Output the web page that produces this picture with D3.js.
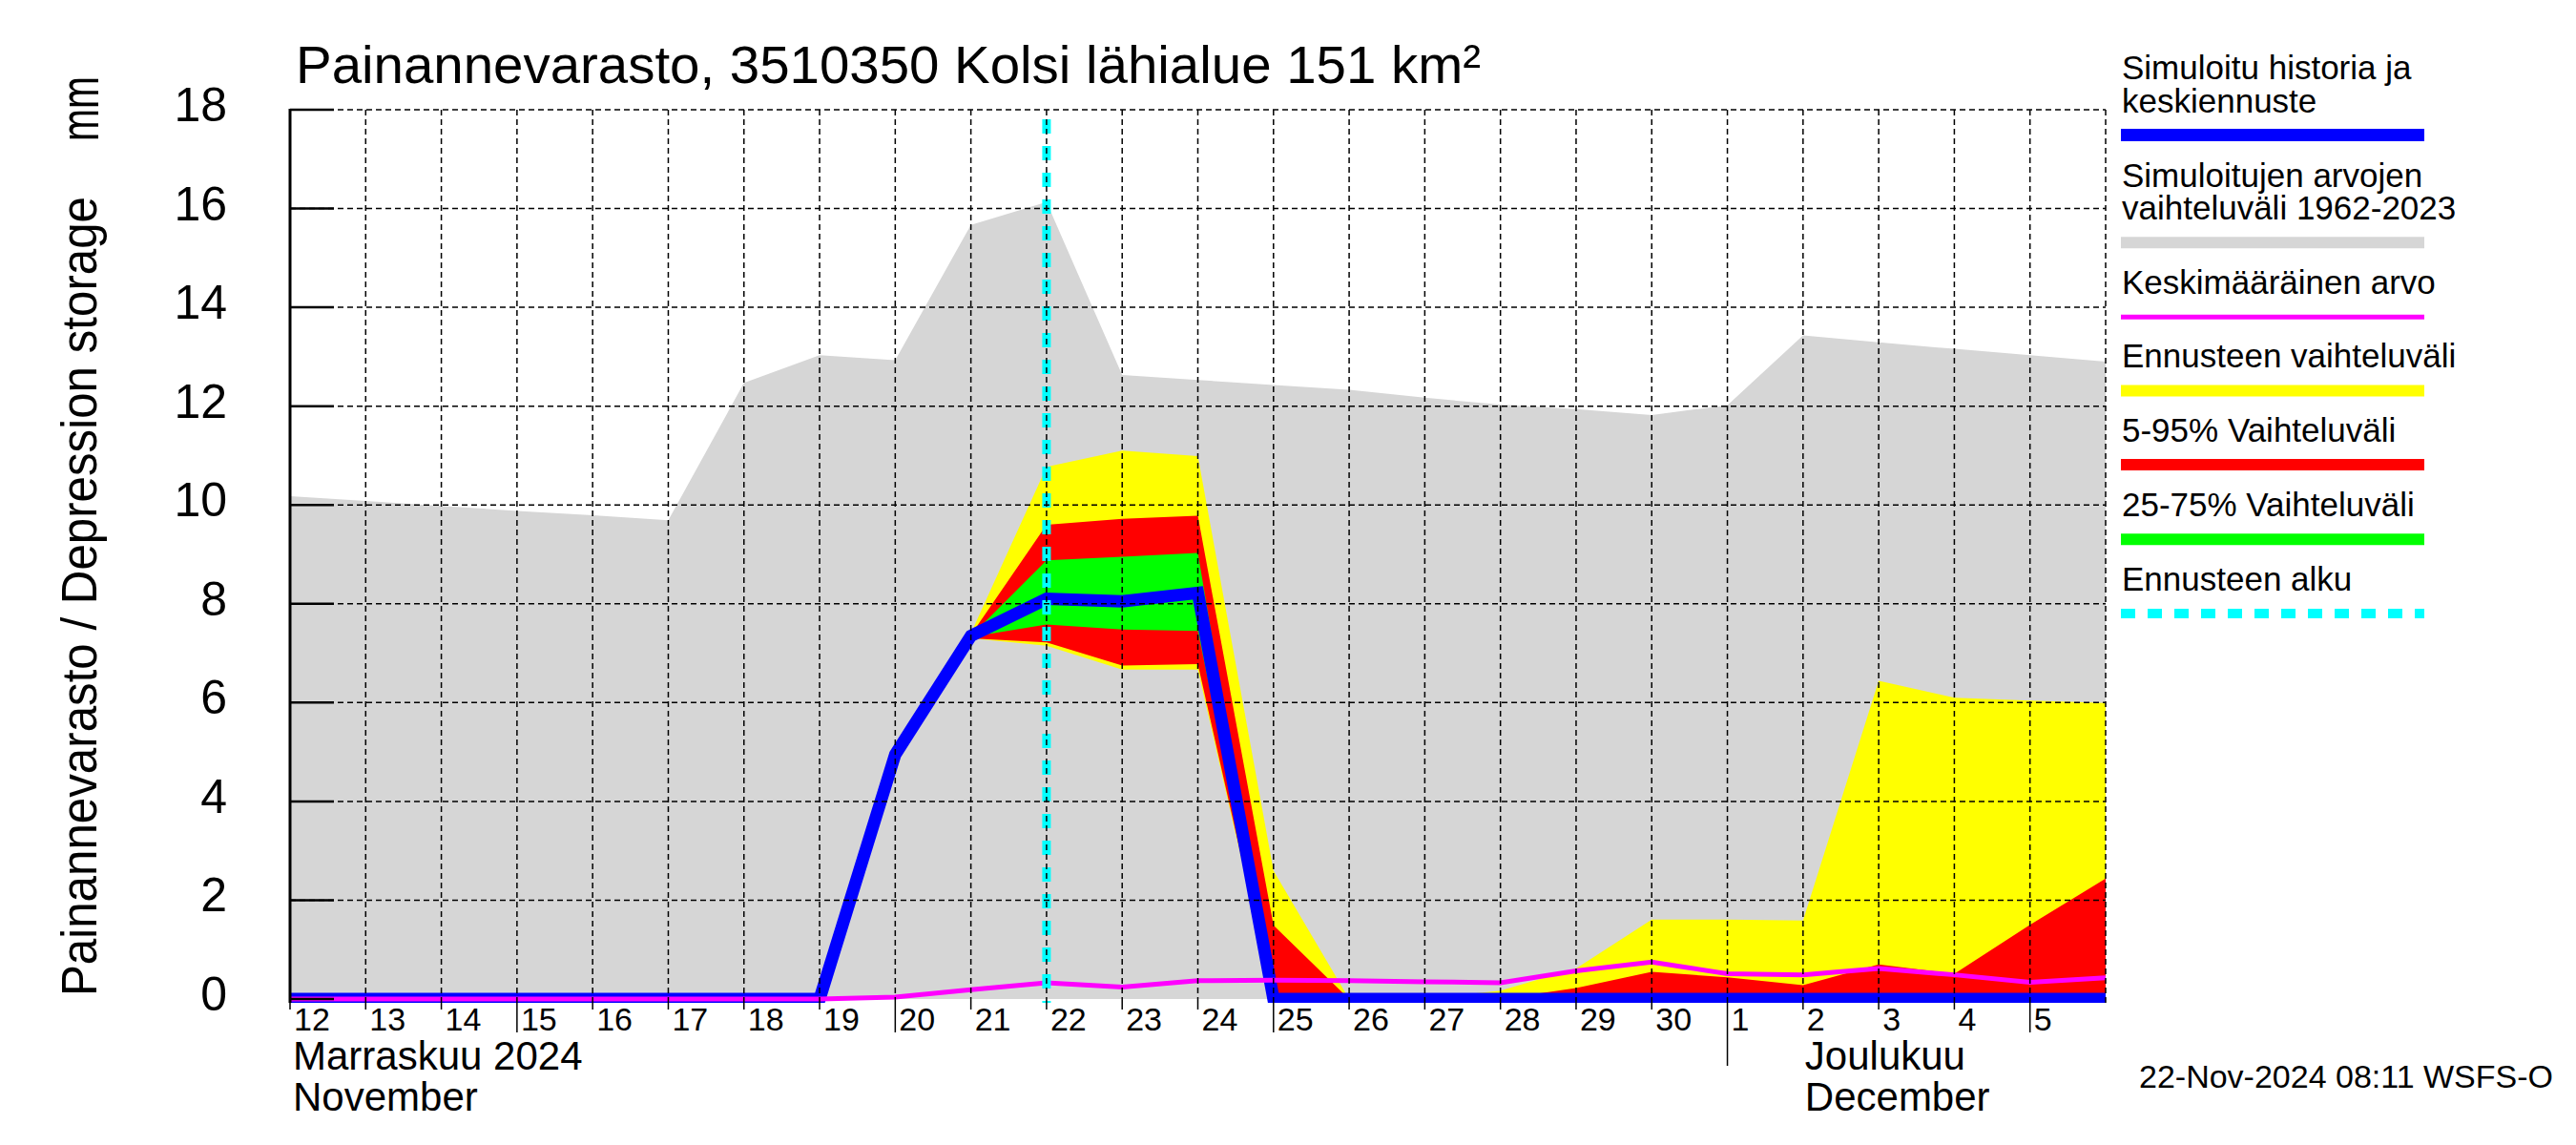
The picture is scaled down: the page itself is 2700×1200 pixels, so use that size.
<!DOCTYPE html>
<html>
<head>
<meta charset="utf-8">
<script src="https://cdn.jsdelivr.net/npm/d3@7"></script>
<style>
body { margin: 0; background: #fff; }
text { font-family: "Liberation Sans", Arial, Helvetica, sans-serif; fill: #000; }
</style>
</head>
<body>
<svg id="chart"></svg>
<script>
var parseDay = d3.timeParse("%Y-%m-%d");

// one value per day, 00:00 of each day (12.11. - 6.12.)
var dayStrings = ["2024-11-12","2024-11-13","2024-11-14","2024-11-15","2024-11-16",
  "2024-11-17","2024-11-18","2024-11-19","2024-11-20","2024-11-21","2024-11-22",
  "2024-11-23","2024-11-24","2024-11-25","2024-11-26","2024-11-27","2024-11-28",
  "2024-11-29","2024-11-30","2024-12-01","2024-12-02","2024-12-03","2024-12-04",
  "2024-12-05","2024-12-06"];

// simulated history + median forecast (blue)
var simulated = [0, 0, 0, 0, 0, 0, 0, 0, 4.95, 7.35, 8.1, 8.05, 8.22,
  0, 0, 0, 0, 0, 0, 0, 0, 0, 0, 0, 0];

// range of simulated values 1962-2023 (grey)
var histMax = [10.18, 10.08, 9.98, 9.88, 9.79, 9.69, 12.47, 13.03, 12.93, 15.67, 16.13,
  12.63, 12.53, 12.43, 12.33, 12.17, 12.03, 11.94, 11.82, 12.02, 13.43, 13.29, 13.16, 13.03, 12.9];
var histMin = [0, 0, 0, 0, 0, 0, 0, 0, 0, 0, 0, 0, 0, 0, 0, 0, 0, 0, 0, 0, 0, 0, 0, 0, 0];

// mean value (magenta)
var meanValue = [0, 0, 0, 0, 0, 0, 0, 0, 0.04, 0.19, 0.33, 0.24, 0.37, 0.38, 0.37,
  0.35, 0.33, 0.57, 0.75, 0.51, 0.49, 0.62, 0.49, 0.34, 0.43];

// forecast bands, from 21.11. onwards
var forecastFrom = 9;
var fcMax = [7.4, 10.77, 11.1, 10.99, 2.6, 0, 0, 0.17, 0.62, 1.61, 1.61, 1.59, 6.44, 6.1, 6.04, 5.99];
var fcMin = [7.3, 7.15, 6.67, 6.67, 0, 0, 0, 0, 0, 0, 0, 0, 0, 0, 0, 0];
var fc95 = [7.37, 9.6, 9.72, 9.78, 1.49, 0, 0, 0, 0.22, 0.55, 0.44, 0.28, 0.7, 0.51, 1.5, 2.44];
var fc5 = [7.3, 7.22, 6.75, 6.78, 0, 0, 0, 0, 0, 0, 0, 0, 0, 0, 0, 0];
var fc75 = [7.35, 8.88, 8.95, 9.03, 0, 0, 0, 0, 0, 0, 0, 0, 0, 0, 0, 0];
var fc25 = [7.33, 7.58, 7.48, 7.45, 0, 0, 0, 0, 0, 0, 0, 0, 0, 0, 0, 0];

var forecastStart = "2024-11-22";
var yTicks = [0, 2, 4, 6, 8, 10, 12, 14, 16, 18];
var longTickDays = ["2024-11-15", "2024-11-20", "2024-11-25", "2024-12-05"];
var monthStart = "2024-12-01";

var titleText = "Painannevarasto, 3510350 Kolsi lähialue 151 km²";
var yLabel = "Painannevarasto / Depression storage";
var yUnit = "mm";
var stamp = "22-Nov-2024 08:11 WSFS-O";

var legendLabels = [
  ["Simuloitu historia ja", "keskiennuste"],
  ["Simuloitujen arvojen", "vaihteluväli 1962-2023"],
  ["Keskimääräinen arvo"],
  ["Ennusteen vaihteluväli"],
  ["5-95% Vaihteluväli"],
  ["25-75% Vaihteluväli"],
  ["Ennusteen alku"]
];
var legendColors = ["#0000ff", "#d6d6d6", "#ff00ff", "#ffff00", "#ff0000", "#00ff00", "#00ffff"];
var legendWidths = [13, 12, 5, 12, 12, 12, 10];


var width = 2700, height = 1200;
var margin = ({top: 115, right: 493, bottom: 151, left: 304});

var dates = dayStrings.map(parseDay);
var fcDates = dates.slice(forecastFrom);

var svg = d3.select("#chart")
  .attr("width", width)
  .attr("height", height);

svg.append("rect").attr("width", width).attr("height", height).attr("fill", "#fff");

var x = d3.scaleTime()
  .domain([dates[0], dates[dates.length - 1]])
  .range([margin.left, width - margin.right]);

var y = d3.scaleLinear()
  .domain([0, 18])
  .range([height - margin.bottom - 2, margin.top]);

var plotBottom = height - margin.bottom + 2;

svg.append("clipPath").attr("id", "plot")
  .append("rect")
  .attr("x", margin.left)
  .attr("y", margin.top)
  .attr("width", x.range()[1] - margin.left)
  .attr("height", plotBottom - margin.top);

var plot = svg.append("g").attr("clip-path", "url(#plot)");

function band(xs, lo, hi) {
  return d3.area()
    .x((d, i) => x(xs[i]))
    .y0((d, i) => y(lo[i]))
    .y1((d, i) => y(hi[i]))(xs);
}

// grey history range
plot.append("path")
  .attr("d", band(dates, histMin, histMax))
  .attr("fill", "#d6d6d6");

// forecast ranges
plot.append("path").attr("d", band(fcDates, fcMin, fcMax)).attr("fill", "#ffff00");
plot.append("path").attr("d", band(fcDates, fc5, fc95)).attr("fill", "#ff0000");
plot.append("path").attr("d", band(fcDates, fc25, fc75)).attr("fill", "#00ff00");

// grid
var grid = svg.append("g")
  .attr("stroke", "#000")
  .attr("stroke-width", 1.5)
  .attr("stroke-dasharray", "6,4");

grid.selectAll(".hg")
  .data(yTicks.slice(1))
  .join("line")
  .attr("x1", margin.left).attr("x2", x.range()[1])
  .attr("y1", d => y(d)).attr("y2", d => y(d));

grid.selectAll(".vg")
  .data(dates.slice(1))
  .join("line")
  .attr("x1", d => x(d)).attr("x2", d => x(d))
  .attr("y1", margin.top).attr("y2", plotBottom);

// mean and simulated lines
var line = function(xs, vals) {
  return d3.line().x((d, i) => x(xs[i])).y((d, i) => y(vals[i]))(xs);
};

plot.append("path")
  .attr("d", line(dates, simulated))
  .attr("fill", "none")
  .attr("stroke", "#0000ff")
  .attr("stroke-width", 13)
  .attr("stroke-linejoin", "miter");

plot.append("path")
  .attr("d", line(dates, meanValue))
  .attr("fill", "none")
  .attr("stroke", "#ff00ff")
  .attr("stroke-width", 5);

// forecast start
plot.append("line")
  .attr("x1", x(parseDay(forecastStart))).attr("x2", x(parseDay(forecastStart)))
  .attr("y1", margin.top + 10).attr("y2", plotBottom)
  .attr("stroke", "#00ffff")
  .attr("stroke-width", 9)
  .attr("stroke-dasharray", "15,13");

// y axis
svg.append("line")
  .attr("x1", margin.left).attr("x2", margin.left)
  .attr("y1", margin.top - 1).attr("y2", plotBottom)
  .attr("stroke", "#000").attr("stroke-width", 3);

svg.selectAll(".ytick")
  .data(yTicks)
  .join("line")
  .attr("x1", margin.left).attr("x2", margin.left + 46)
  .attr("y1", d => y(d)).attr("y2", d => y(d))
  .attr("stroke", "#000").attr("stroke-width", 2.5);

svg.selectAll(".ylab")
  .data(yTicks)
  .join("text")
  .attr("x", 238)
  .attr("y", d => y(d) + 12)
  .attr("text-anchor", "end")
  .attr("font-size", 50)
  .text(d => d);

// x axis ticks and labels
svg.selectAll(".xtick")
  .data(dates.slice(0, 24))
  .join("line")
  .attr("x1", d => x(d)).attr("x2", d => x(d))
  .attr("y1", plotBottom)
  .attr("y2", d => {
    var s = d3.timeFormat("%Y-%m-%d")(d);
    if (s == monthStart) return 1117;
    if (longTickDays.indexOf(s) >= 0) return 1082;
    return 1058;
  })
  .attr("stroke", "#000").attr("stroke-width", 1.5);

svg.selectAll(".xlab")
  .data(dates.slice(0, 24))
  .join("text")
  .attr("x", d => x(d) + 4)
  .attr("y", 1080)
  .attr("font-size", 34)
  .text(d => d.getDate());

svg.append("text").attr("x", 307).attr("y", 1121).attr("font-size", 42).text("Marraskuu 2024");
svg.append("text").attr("x", 307).attr("y", 1164).attr("font-size", 42).text("November");
svg.append("text").attr("x", x(parseDay("2024-12-02")) + 2).attr("y", 1121).attr("font-size", 42).text("Joulukuu");
svg.append("text").attr("x", x(parseDay("2024-12-02")) + 2).attr("y", 1164).attr("font-size", 42).text("December");

// title and axis label
svg.append("text")
  .attr("x", 310).attr("y", 87)
  .attr("font-size", 56)
  .attr("textLength", 1242)
  .attr("lengthAdjust", "spacingAndGlyphs")
  .text(titleText);

svg.append("text")
  .attr("transform", "translate(101,1044) rotate(-90)")
  .attr("font-size", 51)
  .attr("textLength", 838)
  .attr("lengthAdjust", "spacingAndGlyphs")
  .text(yLabel);

svg.append("text")
  .attr("transform", "translate(103,80) rotate(-90)")
  .attr("text-anchor", "end")
  .attr("font-size", 58)
  .attr("textLength", 68)
  .attr("lengthAdjust", "spacingAndGlyphs")
  .text(yUnit);

// legend
var legendY = [141.6, 254.3, 332.2, 409.4, 487, 565.3, 642.9];
var legend = svg.append("g");
legendLabels.forEach(function(lines, i) {
  lines.forEach(function(t, j) {
    legend.append("text")
      .attr("x", 2224)
      .attr("y", legendY[i] - 24 - (lines.length - 1 - j) * 34.7)
      .attr("font-size", 35)
      .text(t);
  });
  legend.append("line")
    .attr("x1", 2223).attr("x2", 2541)
    .attr("y1", legendY[i]).attr("y2", legendY[i])
    .attr("stroke", legendColors[i])
    .attr("stroke-width", legendWidths[i])
    .attr("stroke-dasharray", i == 6 ? "15,13" : null);
});

svg.append("text")
  .attr("x", 2676).attr("y", 1140)
  .attr("text-anchor", "end")
  .attr("font-size", 34)
  .text(stamp);
</script>
</body>
</html>
